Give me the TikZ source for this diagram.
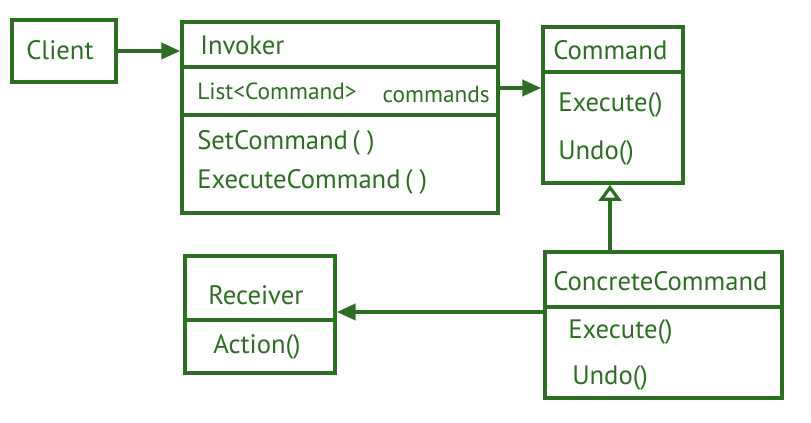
\documentclass[tikz,border=0pt]{standalone}
\usepackage{fontspec}
\setmainfont{PT Sans}
\usetikzlibrary{fit,arrows.meta}
\definecolor{uml}{RGB}{44,110,34}
\tikzset{
  box/.style={draw=uml, line width=2.8pt, rectangle, inner sep=0pt},
  sep/.style={draw=uml, line width=2.8pt},
  lbl/.style={text=uml, font=\fontsize{20}{23}\selectfont, anchor=west, inner sep=0pt},
  small/.style={font=\fontsize{17.5}{21}\selectfont},
  assoc/.style={draw=uml, line width=2.6pt, -{Triangle[length=14pt,width=12pt]}},
  gen/.style={draw=uml, line width=2.6pt, -{Triangle[open,length=12pt,width=17pt,line width=2.4pt]}}
}
\begin{document}
\begin{tikzpicture}[x=0.75pt,y=-0.75pt]
\useasboundingbox (0,0) rectangle (811,423);
% boxes
\node[box, fit={(12,20) (116,82)}] (client) {};
\node[box, fit={(182,22) (498,213)}] (invoker) {};
\node[box, fit={(543,27) (683,183)}] (command) {};
\node[box, fit={(545,252) (782,398)}] (concrete) {};
\node[box, fit={(185,256) (335,373)}] (receiver) {};
% compartments
\coordinate (iy1) at (0,67);
\coordinate (iy2) at (0,115);
\coordinate (cy1) at (0,72);
\coordinate (ky1) at (0,307);
\coordinate (ry1) at (0,320);
\draw[sep] (invoker.west |- iy1) -- (invoker.east |- iy1);
\draw[sep] (invoker.west |- iy2) -- (invoker.east |- iy2);
\draw[sep] (command.west |- cy1) -- (command.east |- cy1);
\draw[sep] (concrete.west |- ky1) -- (concrete.east |- ky1);
\draw[sep] (receiver.west |- ry1) -- (receiver.east |- ry1);
% labels
\node[lbl] (tclient) at (26,50) {Client};
\node[lbl] (tinv) at (200,45) {Invoker};
\node[lbl, small] (tlist) at (197,91) {List<Command>};
\node[lbl, small, anchor=east] (tcmds) at (490,94) {commands};
\node[lbl] (tset) at (197,143) {SetCommand\,( )};
\node[lbl] (texc) at (197,182) {ExecuteCommand\,( )};
\node[lbl] (tcmd) at (553,50) {Command};
\node[lbl] (tcex) at (558,105) {Execute()};
\node[lbl] (tcun) at (558,153) {Undo()};
\node[lbl] (tcc) at (553,281) {ConcreteCommand};
\node[lbl] (tccex) at (568,332) {Execute()};
\node[lbl] (tccun) at (572,378) {Undo()};
\node[lbl] (trec) at (208,295) {Receiver};
\node[lbl] (tact) at (213,347) {Action()};
% connectors
\coordinate (ay1) at (0,88);
\coordinate (ay2) at (0,312);
\coordinate (gx) at (610,0);
\draw[assoc] (client.east) -- (client.east -| invoker.west);
\draw[assoc] (invoker.east |- ay1) -- (command.west |- ay1);
\draw[gen] (concrete.north -| gx) -- (command.south -| gx);
\draw[assoc] (concrete.west |- ay2) -- (receiver.east |- ay2);
\end{tikzpicture}
\end{document}
